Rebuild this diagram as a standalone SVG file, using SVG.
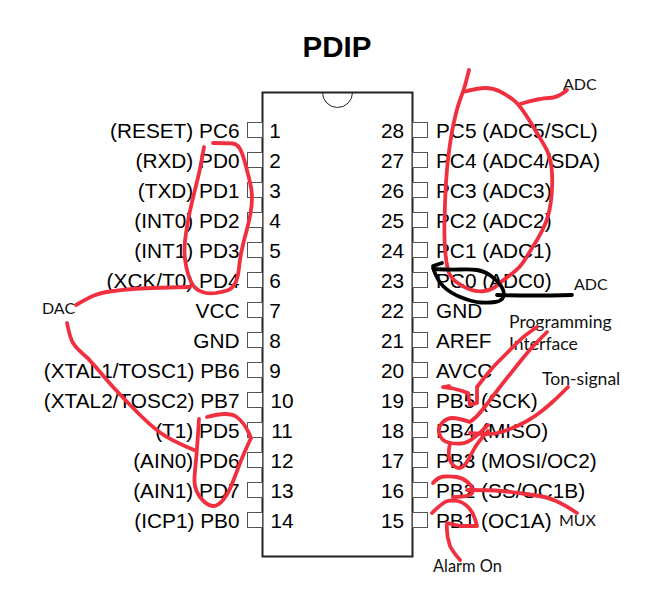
<svg xmlns="http://www.w3.org/2000/svg" width="665" height="601" viewBox="0 0 665 601">
<style>
text{font-family:"Liberation Sans",Arial,sans-serif;font-size:20.8px;fill:#000}
.l{text-anchor:end}
.n{text-anchor:middle}
.t{font-family:Lato,"Open Sans",sans-serif;font-size:16px;fill:#111}
.w{font-size:17.6px}
.b{fill:#fff;stroke:#555;stroke-width:1}
.r,.k{fill:none;stroke-linecap:round;stroke-linejoin:round}
.r{stroke:#f0303f;stroke-width:3.8}
.k{stroke:#000;stroke-width:3.8}
</style>
<rect width="665" height="601" fill="#fff"/>
<g id="chip">
<text x="337" y="57" text-anchor="middle" style="font-size:29.5px;font-weight:bold">PDIP</text>
<rect x="262.5" y="92.5" width="150" height="464" fill="none" stroke="#222" stroke-width="2"/>
<path d="M322.5 92.5A15 15 0 0 0 352.5 92.5" fill="none" stroke="#222" stroke-width="1"/>
</g>
<g id="pin1"><rect class="b" x="247.5" y="122.5" width="15" height="15"/><text class="l" x="239.5" y="138">(RESET) PC6</text><text class="n" x="275" y="138">1</text></g>
<g id="pin2"><rect class="b" x="247.5" y="152.5" width="15" height="15"/><text class="l" x="239.5" y="168">(RXD) PD0</text><text class="n" x="275" y="168">2</text></g>
<g id="pin3"><rect class="b" x="247.5" y="182.5" width="15" height="15"/><text class="l" x="239.5" y="198">(TXD) PD1</text><text class="n" x="275" y="198">3</text></g>
<g id="pin4"><rect class="b" x="247.5" y="212.5" width="15" height="15"/><text class="l" x="239.5" y="228">(INT0) PD2</text><text class="n" x="275" y="228">4</text></g>
<g id="pin5"><rect class="b" x="247.5" y="242.5" width="15" height="15"/><text class="l" x="239.5" y="258">(INT1) PD3</text><text class="n" x="275" y="258">5</text></g>
<g id="pin6"><rect class="b" x="247.5" y="272.5" width="15" height="15"/><text class="l" x="239.5" y="288">(XCK/T0) PD4</text><text class="n" x="275" y="288">6</text></g>
<g id="pin7"><rect class="b" x="247.5" y="302.5" width="15" height="15"/><text class="l" x="239.5" y="318">VCC</text><text class="n" x="275" y="318">7</text></g>
<g id="pin8"><rect class="b" x="247.5" y="332.5" width="15" height="15"/><text class="l" x="239.5" y="348">GND</text><text class="n" x="275" y="348">8</text></g>
<g id="pin9"><rect class="b" x="247.5" y="362.5" width="15" height="15"/><text class="l" x="239.5" y="378">(XTAL1/TOSC1) PB6</text><text class="n" x="275" y="378">9</text></g>
<g id="pin10"><rect class="b" x="247.5" y="392.5" width="15" height="15"/><text class="l" x="239.5" y="408">(XTAL2/TOSC2) PB7</text><text class="n" x="282" y="408">10</text></g>
<g id="pin11"><rect class="b" x="247.5" y="422.5" width="15" height="15"/><text class="l" x="239.5" y="438">(T1) PD5</text><text class="n" x="282" y="438">11</text></g>
<g id="pin12"><rect class="b" x="247.5" y="452.5" width="15" height="15"/><text class="l" x="239.5" y="468">(AIN0) PD6</text><text class="n" x="282" y="468">12</text></g>
<g id="pin13"><rect class="b" x="247.5" y="482.5" width="15" height="15"/><text class="l" x="239.5" y="498">(AIN1) PD7</text><text class="n" x="282" y="498">13</text></g>
<g id="pin14"><rect class="b" x="247.5" y="512.5" width="15" height="15"/><text class="l" x="239.5" y="528">(ICP1) PB0</text><text class="n" x="282" y="528">14</text></g>
<g id="pin28"><rect class="b" x="412.5" y="122.5" width="15" height="15"/><text class="n" x="392.5" y="138">28</text><text x="436" y="138">PC5 (ADC5/SCL)</text></g>
<g id="pin27"><rect class="b" x="412.5" y="152.5" width="15" height="15"/><text class="n" x="392.5" y="168">27</text><text x="436" y="168">PC4 (ADC4/SDA)</text></g>
<g id="pin26"><rect class="b" x="412.5" y="182.5" width="15" height="15"/><text class="n" x="392.5" y="198">26</text><text x="436" y="198">PC3 (ADC3)</text></g>
<g id="pin25"><rect class="b" x="412.5" y="212.5" width="15" height="15"/><text class="n" x="392.5" y="228">25</text><text x="436" y="228">PC2 (ADC2)</text></g>
<g id="pin24"><rect class="b" x="412.5" y="242.5" width="15" height="15"/><text class="n" x="392.5" y="258">24</text><text x="436" y="258">PC1 (ADC1)</text></g>
<g id="pin23"><rect class="b" x="412.5" y="272.5" width="15" height="15"/><text class="n" x="392.5" y="288">23</text><text x="436" y="288">PC0 (ADC0)</text></g>
<g id="pin22"><rect class="b" x="412.5" y="302.5" width="15" height="15"/><text class="n" x="392.5" y="318">22</text><text x="436" y="318">GND</text></g>
<g id="pin21"><rect class="b" x="412.5" y="332.5" width="15" height="15"/><text class="n" x="392.5" y="348">21</text><text x="436" y="348">AREF</text></g>
<g id="pin20"><rect class="b" x="412.5" y="362.5" width="15" height="15"/><text class="n" x="392.5" y="378">20</text><text x="436" y="378">AVCC</text></g>
<g id="pin19"><rect class="b" x="412.5" y="392.5" width="15" height="15"/><text class="n" x="392.5" y="408">19</text><text x="436" y="408">PB5 (SCK)</text></g>
<g id="pin18"><rect class="b" x="412.5" y="422.5" width="15" height="15"/><text class="n" x="392.5" y="438">18</text><text x="436" y="438">PB4 (MISO)</text></g>
<g id="pin17"><rect class="b" x="412.5" y="452.5" width="15" height="15"/><text class="n" x="392.5" y="468">17</text><text x="436" y="468">PB3 (MOSI/OC2)</text></g>
<g id="pin16"><rect class="b" x="412.5" y="482.5" width="15" height="15"/><text class="n" x="392.5" y="498">16</text><text x="436" y="498">PB2 (SS/OC1B)</text></g>
<g id="pin15"><rect class="b" x="412.5" y="512.5" width="15" height="15"/><text class="n" x="392.5" y="528">15</text><text x="436" y="528">PB1 (OC1A)</text></g>
<g id="labels">
<text class="t" x="42" y="314">DAC</text>
<text class="t" x="563" y="90">ADC</text>
<text class="t" x="574" y="290">ADC</text>
<text class="t w" x="509" y="328">Programming</text>
<text class="t w" x="509" y="350">Interface</text>
<text class="t w" x="542" y="385">Ton-signal</text>
<text class="t" x="559" y="526">MUX</text>
<text class="t" x="433" y="572" style="font-size:16.4px">Alarm On</text>
</g>
<g id="connectors">
<path class="r" d="M213 143Q228 143 232.5 143.5Q237 144 239.5 148Q242 152 244.5 161Q247 170 249.5 180Q252 190 252 197.5Q252 205 250.5 213.5Q249 222 246.5 231Q244 240 242 249Q240 258 239 268Q238 278 235 283.5Q232 289 227 290.5Q222 292 216 293Q210 294 204 292.5Q198 291 194.5 287Q191 283 188.5 275.5Q186 268 185 259Q184 250 185 241Q186 232 188 221Q190 210 192.5 200Q195 190 198 177.5Q201 165 204 147"/>
<path class="r" d="M76 305Q88 298 94 295.5Q100 293 110 291.5Q120 290 132.5 289Q145 288 190 287"/>
<path class="r" d="M67 323Q70 338 73 343Q76 348 82 353Q88 358 94 365Q100 372 106 379Q112 386 121 395.5Q130 405 140 415Q150 425 160 432.5Q170 440 194 450"/>
<path class="r" d="M199 419Q197 450 196 460Q195 470 194.5 477.5Q194 485 196.5 491Q199 497 204 501.5Q209 506 213.5 506Q218 506 223 500Q228 494 232 484Q236 474 239.5 464.5Q243 455 251 438Q248 430 244 424.5Q240 419 236 416.5Q232 414 225 414Q218 414 207 417"/>
<path class="r" d="M469 70Q466 82 464.5 87Q463 92 460.5 98.5Q458 105 455 117.5Q452 130 449.5 147.5Q447 165 446 182.5Q445 200 444.5 220Q444 240 445.5 254Q447 268 449 273Q451 278 457 282.5Q463 287 470 289.5Q477 292 484.5 291Q492 290 497.5 285Q503 280 511.5 274Q520 268 526 258Q532 248 537 240Q542 232 546 222Q550 212 551.5 196Q553 180 551.5 167.5Q550 155 545 146.5Q540 138 530 121.5Q520 105 513.5 100Q507 95 500 91.5Q493 88 485.5 88Q478 88 463 92"/>
<path class="r" d="M520 104Q540 98 549 98Q558 98 567 90"/>
<path class="k" d="M442 263L433 266L434 269Q450 270 460 269.5Q470 269 477 270Q484 271 490.5 275.5Q497 280 501 286Q505 292 503.5 296.5Q502 301 495 302Q488 303 480.5 302.5Q473 302 461.5 297.5Q450 293 443.5 286.5Q437 280 433 268"/>
<path class="k" d="M497 295Q530 296 572 295"/>
<path class="r" d="M537 327Q525 335 519 341Q513 347 508 352Q503 357 498 362Q493 367 488.5 372.5Q484 378 480.5 382.5L477 387L477 403L470 405L468 393Q460 390 451 388L443 387L449 386"/>
<path class="r" d="M547 332Q537 342 532 347.5Q527 353 521 360.5Q515 368 509 375.5Q503 383 496.5 391.5Q490 400 483.5 408.5Q477 417 470 422Q458 418 452.5 418Q447 418 442.5 422.5Q438 427 439 432Q440 437 442.5 439.5Q445 442 450.5 443Q456 444 461.5 443.5Q467 443 473.5 438Q480 433 488 425"/>
<path class="r" d="M568 387Q558 397 552.5 402Q547 407 540.5 412Q534 417 527 421Q520 425 512.5 428Q505 431 497.5 433Q490 435 470 433"/>
<path class="r" d="M450 443Q447 457 451 462.5Q455 468 459 468Q463 468 466.5 462.5Q470 457 473.5 450Q477 443 488 431"/>
<path class="r" d="M433 483Q438 477 444 476.5Q450 476 456.5 477Q463 478 468 482.5Q473 487 472.5 492Q472 497 453 497"/>
<path class="r" d="M467 490Q490 490 501.5 491Q513 492 522.5 493.5Q532 495 539.5 496Q547 497 556 501Q565 505 577 513"/>
<path class="r" d="M432 513Q443 502 447.5 501Q452 500 457.5 501Q463 502 468 507Q473 512 475 519L477 526L460 526L447 523Q446 535 450 546Q453 552 460 560"/>
</g>
</svg>
